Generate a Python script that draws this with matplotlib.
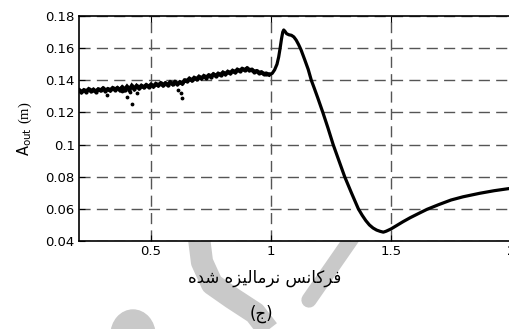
import numpy as np
import matplotlib
matplotlib.use("Agg")
import matplotlib.pyplot as plt
from matplotlib.lines import Line2D
from matplotlib.patches import Ellipse

plt.rcParams['font.family'] = ['DejaVu Sans']
plt.rcParams['mathtext.fontset'] = 'custom'
plt.rcParams['mathtext.rm'] = 'Liberation Serif'
plt.rcParams['mathtext.sf'] = 'DejaVu Sans'

# Scattered low-frequency measurements (noisy band below resonance)
band_x = np.round(np.arange(0.20, 0.995, 0.01), 2)
band_y = [
    0.1339, 0.1327, 0.1338, 0.1330, 0.1344, 0.1333, 0.1342, 0.1330, 0.1343, 0.1337,
    0.1349, 0.1336, 0.1345, 0.1337, 0.1351, 0.1342, 0.1352, 0.1340, 0.1356, 0.1341,
    0.1360, 0.1342, 0.1365, 0.1347, 0.1365, 0.1351, 0.1366, 0.1357, 0.1370, 0.1360,
    0.1373, 0.1362, 0.1377, 0.1368, 0.1381, 0.1369, 0.1381, 0.1371, 0.1387, 0.1376,
    0.1389, 0.1377, 0.1388, 0.1380, 0.1399, 0.1395, 0.1410, 0.1400, 0.1415, 0.1407,
    0.1422, 0.1412, 0.1426, 0.1416, 0.1430, 0.1422, 0.1437, 0.1428, 0.1441, 0.1434,
    0.1448, 0.1439, 0.1453, 0.1445, 0.1459, 0.1451, 0.1466, 0.1459, 0.1471, 0.1464,
    0.1474, 0.1463, 0.1466, 0.1454, 0.1457, 0.1447, 0.1449, 0.1440, 0.1442, 0.1436,
]

# Stray points falling below the band
stray_x = [0.315, 0.378, 0.399, 0.4125, 0.422, 0.44, 0.614, 0.625, 0.628]
stray_y = [0.1309, 0.1335, 0.1294, 0.1325, 0.1251, 0.1319, 0.1340, 0.1319, 0.1288]

# Resonance peak and high-frequency response
curve_x = [0.996, 1.005, 1.015, 1.025, 1.032, 1.038, 1.044, 1.049, 1.053, 1.058,
           1.065, 1.075, 1.085, 1.095, 1.105, 1.115, 1.125, 1.140, 1.155, 1.168,
           1.180, 1.195, 1.216, 1.237, 1.259, 1.283, 1.307, 1.335, 1.364, 1.380,
           1.395, 1.410, 1.425, 1.440, 1.455, 1.468, 1.480, 1.490, 1.500, 1.520,
           1.550, 1.580, 1.620, 1.650, 1.700, 1.750, 1.800, 1.870, 1.930, 2.000]
curve_y = [0.1437, 0.1443, 0.1465, 0.1500, 0.1545, 0.1600, 0.1660, 0.1700, 0.1713, 0.1705,
           0.1690, 0.1683, 0.1680, 0.1670, 0.1650, 0.1622, 0.1590, 0.1530, 0.1468, 0.1400,
           0.1352, 0.1290, 0.1200, 0.1105, 0.1000, 0.0900, 0.0800, 0.0700, 0.0600, 0.0560,
           0.0527, 0.0500, 0.0481, 0.0468, 0.0460, 0.0455, 0.0461, 0.0468, 0.0475, 0.0493,
           0.0520, 0.0545, 0.0575, 0.0597, 0.0627, 0.0655, 0.0675, 0.0697, 0.0713, 0.0728]

x_ticks = [0.5, 1, 1.5, 2]
x_labels = ['0.5', '1', '1.5', '2']
y_ticks = [0.04, 0.06, 0.08, 0.10, 0.12, 0.14, 0.16, 0.18]
y_labels = ['0.04', '0.06', '0.08', '0.1', '0.12', '0.14', '0.16', '0.18']

W, H = 510, 329
fig = plt.figure(figsize=(W / 100, H / 100), dpi=100)
fig.patch.set_facecolor('white')


def fx(px):
    return px / W


def fy(py):
    return 1 - py / H


# faint grey logo behind the captions
wm = '#c9c9c9'
fig.add_artist(Line2D([fx(p) for p in (199, 202, 212, 232, 255, 272)],
                      [fy(p) for p in (238, 262, 284, 298, 313, 335)],
                      transform=fig.transFigure, color=wm, lw=16,
                      solid_capstyle='butt', zorder=-2))
fig.add_artist(Line2D([fx(352), fx(309)], [fy(238), fy(300)],
                      transform=fig.transFigure, color=wm, lw=11,
                      solid_capstyle='round', zorder=-2))
fig.add_artist(Ellipse((fx(133), fy(335)), 44 / W, 50 / H,
                       transform=fig.transFigure, color=wm, zorder=-2))

ax = fig.add_axes([fx(79), fy(241), (511 - 79) / W, (241 - 16) / H])
ax.set_facecolor('white')
ax.set_zorder(1)

ax.plot(band_x, band_y, color='black', lw=3.0, solid_joinstyle='miter', zorder=3)
ax.plot(band_x, band_y, ls='none', marker='.', ms=4, color='black', zorder=3)
ax.plot(stray_x, stray_y, ls='none', marker='.', ms=3.5, color='black', zorder=3)
ax.plot(curve_x, curve_y, color='black', lw=2.3, solid_joinstyle='round', zorder=3)

ax.set_xlim(0.2, 2.0)
ax.set_ylim(0.04, 0.18)
ax.set_xticks(x_ticks)
ax.set_xticklabels(x_labels)
ax.set_yticks(y_ticks)
ax.set_yticklabels(y_labels)
ax.tick_params(direction='in', length=4, width=0.8, labelsize=9.5, pad=3,
               top=True, right=False, colors='black')
ax.grid(True, color='#555555', lw=1.0, dashes=(8, 4.5))
for side in ('left', 'bottom', 'top'):
    ax.spines[side].set_linewidth(1.2)
    ax.spines[side].set_color('black')
ax.spines['right'].set_visible(False)

ax.set_ylabel(r'$\mathsf{A}_{\mathsf{out}}\ \mathrm{(m)}$', fontsize=10.5, labelpad=8)

# Persian captions (presentation forms in visual order)
xlabel_fa = '\uFEE9\uFEAA\uFEB7 \uFEE9\uFEB0\uFEF4\uFEDF\uFE8E\uFEE3\uFEAE\uFEE7 \uFEB2\uFEE7\uFE8E\uFEDB\uFEAE\uFED3'
fig.text(fx(265), fy(278), xlabel_fa, ha='center', va='center', fontsize=12,
         color='black', zorder=5)
fig.text(fx(261), fy(314), '(\uFE9D)', ha='center', va='center', fontsize=12,
         color='black', zorder=5)

fig.savefig('out.png', dpi=100, facecolor='white')
